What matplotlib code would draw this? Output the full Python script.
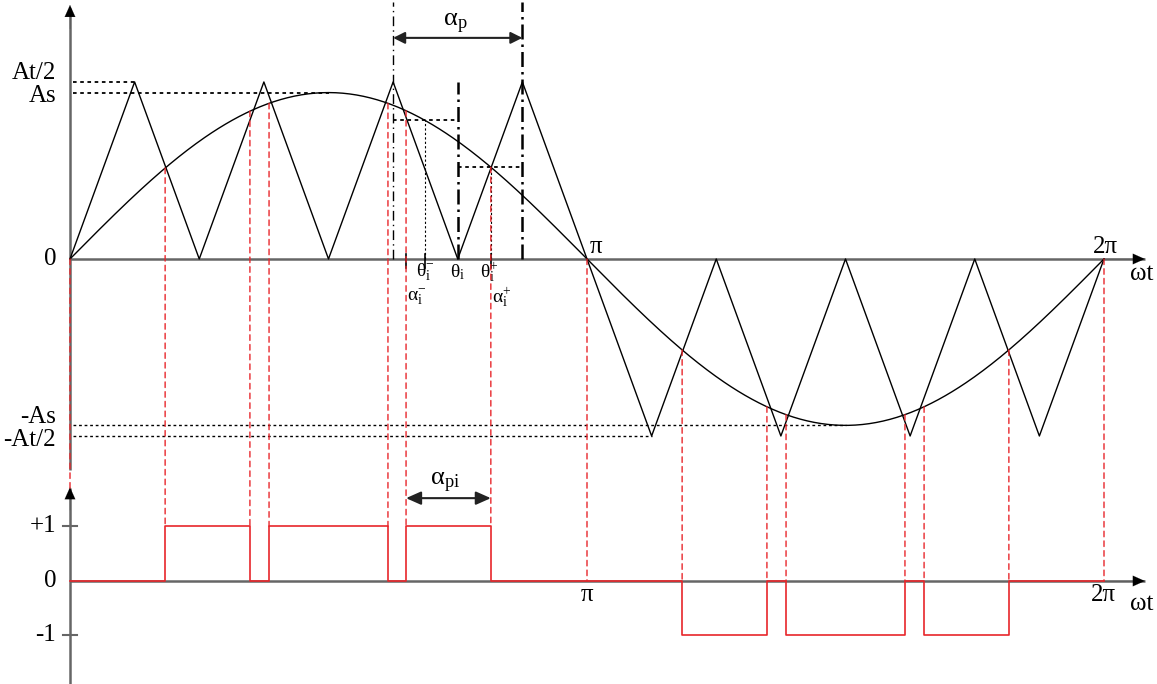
import numpy as np
import matplotlib.pyplot as plt
from matplotlib.patches import ConnectionPatch

plt.rcParams['font.family'] = ['Liberation Serif', 'DejaVu Serif']
plt.rcParams['mathtext.fontset'] = 'custom'
plt.rcParams['mathtext.rm'] = 'Liberation Serif'
plt.rcParams['mathtext.it'] = 'Liberation Serif:italic'

# angles are in units of pi
half_At = 1.0
As = 0.94
carrier_x = [0, 0.125, 0.25, 0.375, 0.5, 0.625, 0.75, 0.875, 1.0,
             1.125, 1.25, 1.375, 1.5, 1.625, 1.75, 1.875, 2.0]
carrier_y = [0, 1, 0, 1, 0, 1, 0, 1, 0, -1, 0, -1, 0, -1, 0, -1, 0]
pulse_x = [0, 0.184, 0.348, 0.385, 0.615, 0.650, 0.814, 1.184, 1.348,
           1.385, 1.615, 1.652, 1.816, 2.0]
pulse_lvl = [0, 1, 0, 1, 0, 1, 0, -1, 0, -1, 0, -1, 0]
guide_x = [1.0, 2.0]
theta_minus, theta_i, theta_plus = 0.687, 0.75, 0.814
alpha_minus, alpha_plus = 0.650, 0.814
ap_left, ap_right = 0.625, 0.875

gray = '#666666'
red = '#e8262b'

fig = plt.figure(figsize=(11.57, 6.84), dpi=100)
ax = fig.add_axes([0, 0, 1, 1])
bx = fig.add_axes([0, 0, 1, 1])
for a in (ax, bx):
    a.set_xlim(-70 / 517, 1087 / 517)
    a.axis('off')
    a.patch.set_alpha(0)
ax.set_ylim(-2.401, 1.463)
bx.set_ylim(-1.89, 10.66)


def sine(x):
    return As * np.sin(np.pi * np.asarray(x))


def arrow_head(a, tip, tail):
    a.annotate('', xy=tip, xytext=tail,
               arrowprops=dict(arrowstyle='-|>,head_length=0.85,head_width=0.38',
                               color='black', lw=0.1, shrinkA=0, shrinkB=0,
                               mutation_scale=10))


# top panel axes
ax.plot([0, 2.079], [0, 0], color=gray, lw=1.8, solid_capstyle='butt')
ax.plot([0, 0], [-1.19, 1.42], color=gray, lw=1.8, solid_capstyle='butt')
arrow_head(ax, (2.079, 0), (2.0, 0))
arrow_head(ax, (0, 1.435), (0, 1.3))

# bottom panel axes
bx.plot([0, 2.079], [0, 0], color=gray, lw=1.8, solid_capstyle='butt')
bx.plot([0, 0], [-1.89, 1.7], color=gray, lw=1.8, solid_capstyle='butt')
arrow_head(bx, (2.079, 0), (2.0, 0))
arrow_head(bx, (0, 1.72), (0, 1.3))
for v in (1, -1):
    bx.plot([-0.014, 0.014], [v, v], color=gray, lw=1.5)

# level guides
dot = (0, (2, 2))
ax.plot([0.006, 0.125], [half_At, half_At], color='black', lw=1.3, ls=dot)
ax.plot([0.006, 0.5], [As, As], color='black', lw=1.3, ls=dot)
ax.plot([0.006, 1.5], [-As, -As], color='black', lw=1.0, ls=dot)
ax.plot([0.006, 1.125], [-half_At, -half_At], color='black', lw=1.0, ls=dot)

# carrier and reference
ax.plot(carrier_x, carrier_y, color='black', lw=1.0)
xs = np.linspace(0, 2, 600)
ax.plot(xs, sine(xs), color='black', lw=1.0)

# alpha_p window
ax.plot([ap_left, ap_left], [0, 1.45], color='black', lw=1.0, ls=(0, (7, 3, 1, 3)))
ax.plot([ap_right, ap_right], [0, 1.45], color='black', lw=1.8, ls=(0, (6, 2, 1, 2)))
ax.plot([theta_i, theta_i], [0, 1.0], color='black', lw=1.8, ls=(0, (6, 2, 1, 2)))
ax.annotate('', xy=(ap_left, 1.249), xytext=(ap_right, 1.249),
            arrowprops=dict(arrowstyle='<|-|>,head_length=0.7,head_width=0.35',
                            color='#222222', lw=1.5, shrinkA=0, shrinkB=0,
                            mutation_scale=10))
ax.text(0.745, 1.33, r'$\mathrm{α_{p}}$', fontsize=19, ha='center', va='center')

# sampling construction
ax.plot([ap_left, theta_i], [sine(theta_minus)] * 2, color='black', lw=1.3, ls=dot)
ax.plot([theta_i, ap_right], [sine(theta_plus)] * 2, color='black', lw=1.3, ls=dot)
ax.plot([theta_minus, theta_minus], [0, sine(theta_minus)], color='black', lw=0.8, ls=(0, (2, 2)))
ax.plot([theta_plus, theta_plus], [0, sine(theta_plus)], color='black', lw=0.8, ls=(0, (2, 2)))
for t in (alpha_minus, theta_minus, theta_plus):
    ax.plot([t, t], [-0.05, 0.03], color='black', lw=1.2)

# switching guides
for x0 in pulse_x[1:-1] + guide_x:
    if x0 in guide_x:
        yb = 0
    else:
        i = pulse_x.index(x0)
        yb = max(pulse_lvl[i - 1], pulse_lvl[i])
    fig.add_artist(ConnectionPatch(xyA=(x0, float(sine(x0))), coordsA=ax.transData,
                                   xyB=(x0, yb), coordsB=bx.transData,
                                   color=red, lw=1.0, ls=(0, (4, 3))))
fig.add_artist(ConnectionPatch(xyA=(0, 0), coordsA=ax.transData,
                               xyB=(0, 1.7), coordsB=bx.transData,
                               color=red, lw=1.0, ls=(0, (4, 3))))

# pulse train
bx.step(pulse_x, pulse_lvl + [0], where='post', color=red, lw=1.2)
bx.annotate('', xy=(alpha_minus, 1.52), xytext=(alpha_plus, 1.52),
            arrowprops=dict(arrowstyle='<|-|>,head_length=0.9,head_width=0.4',
                            color='#222222', lw=1.5, shrinkA=0, shrinkB=0,
                            mutation_scale=10))
bx.text(0.725, 1.8, r'$\mathrm{α_{pi}}$', fontsize=19, ha='center', va='center')

# labels, top
lx = -0.027
ax.text(lx, 1.05, 'At/2', fontsize=18, ha='right', va='center')
ax.text(lx, 0.92, 'As', fontsize=18, ha='right', va='center')
ax.text(lx, 0.0, '0', fontsize=18, ha='right', va='center')
ax.text(lx, -0.89, '-As', fontsize=18, ha='right', va='center')
ax.text(lx, -1.02, '-At/2', fontsize=18, ha='right', va='center')
ax.text(1.006, 0.07, 'π', fontsize=18, ha='left', va='center')
ax.text(2.002, 0.07, '2π', fontsize=18, ha='center', va='center')
ax.text(2.072, -0.085, 'ωt', fontsize=18, ha='center', va='center')
ax.text(theta_minus, -0.075, r'$\mathrm{θ_{i}^{-}}$', fontsize=14, ha='center', va='center')
ax.text(theta_i, -0.075, r'$\mathrm{θ_{i}}$', fontsize=14, ha='center', va='center')
ax.text(0.793, -0.075, r'$\mathrm{θ_{i}^{+}}$', fontsize=14, ha='left', va='center')
ax.text(0.652, -0.215, r'$\mathrm{α_{i}^{-}}$', fontsize=14, ha='left', va='center')
ax.text(0.816, -0.215, r'$\mathrm{α_{i}^{+}}$', fontsize=14, ha='left', va='center')

# labels, bottom
bx.text(lx, 1.0, '+1', fontsize=18, ha='right', va='center')
bx.text(lx, 0.0, '0', fontsize=18, ha='right', va='center')
bx.text(lx, -1.0, '-1', fontsize=18, ha='right', va='center')
bx.text(1.0, -0.25, 'π', fontsize=18, ha='center', va='center')
bx.text(1.998, -0.25, '2π', fontsize=18, ha='center', va='center')
bx.text(2.072, -0.42, 'ωt', fontsize=18, ha='center', va='center')

fig.savefig('out.png', dpi=100)
